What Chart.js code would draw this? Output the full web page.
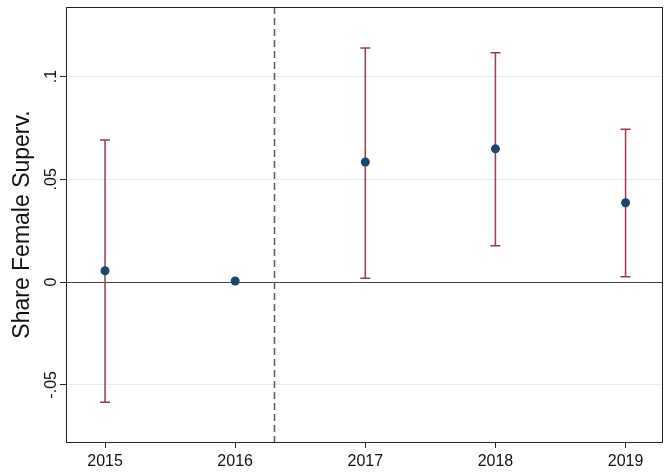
<!DOCTYPE html>
<html>
<head>
<meta charset="utf-8">
<script src="https://cdn.jsdelivr.net/npm/chart.js@4.4.1/dist/chart.umd.min.js"></script>
<style>
  html, body { margin: 0; padding: 0; background: #fff; }
  #wrap { width: 672px; height: 472px; }
</style>
</head>
<body>
<div id="wrap"><canvas id="c" width="672" height="472"></canvas></div>
<script>
/* Event-study style plot: coefficient per year with 95% CI, 2016 = reference year. */
const years = [2015, 2016, 2017, 2018, 2019];
const coef = [0.0055, 0.0005, 0.0584, 0.0648, 0.0386];
const ciLow = [-0.0585, null, 0.0018, 0.0177, 0.0026];
const ciHigh = [0.0691, null, 0.1138, 0.1115, 0.0743];
const yTickValues = [-0.05, 0, 0.05, 0.1];
const yTickLabels = ["-.05", "0", ".05", ".1"];
const treatLine = 2016.3;   // dashed vertical marker

const FONT = "'Liberation Sans', Arial, Helvetica, sans-serif";
const NAVY = "#1a476f", MAROON = "#9c3a4c";

const extras = {
  id: "extras",
  beforeDatasetsDraw(chart) {
    const { ctx, scales: { x, y }, chartArea: a } = chart;
    ctx.save();
    // dashed vertical line
    ctx.strokeStyle = "#5a5a5a"; ctx.lineWidth = 1.5; ctx.setLineDash([7, 4]);
    const dx = Math.round(x.getPixelForValue(treatLine)) + 0.5;
    ctx.beginPath(); ctx.moveTo(dx, a.top); ctx.lineTo(dx, a.bottom); ctx.stroke();
    ctx.setLineDash([]);
    // error bars with caps
    ctx.strokeStyle = MAROON; ctx.lineWidth = 1.5;
    years.forEach((yr, i) => {
      if (ciLow[i] == null) return;
      const px = x.getPixelForValue(yr);
      const lo = y.getPixelForValue(ciLow[i]), hi = y.getPixelForValue(ciHigh[i]);
      ctx.beginPath();
      ctx.moveTo(px, lo); ctx.lineTo(px, hi);
      ctx.moveTo(px - 5, lo); ctx.lineTo(px + 5, lo);
      ctx.moveTo(px - 5, hi); ctx.lineTo(px + 5, hi);
      ctx.stroke();
    });
    ctx.restore();
  },
  afterDraw(chart) {
    const { ctx, scales: { y }, chartArea: a } = chart;
    ctx.save();
    ctx.strokeStyle = "#222"; ctx.lineWidth = 1;
    ctx.strokeRect(Math.round(a.left) + 0.5, Math.round(a.top) + 0.5,
      Math.round(a.right - a.left), Math.round(a.bottom - a.top));
    // rotated y tick labels
    ctx.fillStyle = "#111"; ctx.font = "16px " + FONT;
    ctx.textAlign = "center"; ctx.textBaseline = "middle";
    yTickValues.forEach((v, i) => {
      ctx.save();
      ctx.translate(y.right - 14, y.getPixelForValue(v));
      ctx.rotate(-Math.PI / 2);
      ctx.fillText(yTickLabels[i], 0, 0);
      ctx.restore();
    });
    ctx.restore();
  },
};

new Chart(document.getElementById("c"), {
  type: "scatter",
  data: {
    datasets: [{
      data: years.map((yr, i) => ({ x: yr, y: coef[i] })),
      backgroundColor: NAVY, borderColor: NAVY,
      pointRadius: 4.5, pointHoverRadius: 4.5, borderWidth: 0,
    }],
  },
  options: {
    responsive: false, animation: false,
    layout: { padding: { top: 7, right: 10, left: 0, bottom: 0 } },
    plugins: { legend: { display: false }, tooltip: { enabled: false } },
    scales: {
      x: {
        type: "linear", min: 2014.7, max: 2019.28,
        afterBuildTicks: s => { s.ticks = years.map(v => ({ value: v })); },
        afterFit: s => { s.height = 30; },
        border: { display: false },
        grid: { drawOnChartArea: false, tickLength: 6, tickColor: "#222" },
        ticks: { color: "#111", font: { family: FONT, size: 16 }, padding: 4,
          maxRotation: 0, callback: v => String(v) },
      },
      y: {
        min: -0.0778, max: 0.1338,
        afterBuildTicks: s => { s.ticks = yTickValues.map(v => ({ value: v })); },
        afterFit: s => { s.width = 66; },
        border: { display: false },
        grid: {
          tickLength: 6, tickColor: "#222",
          color: c => (c.tick && c.tick.value === 0 ? "#444" : "#e3ecef"),
          lineWidth: 1,
        },
        ticks: { display: false },
        title: { display: true, text: "Share Female Superv.", color: "#111",
          font: { family: FONT, size: 23 }, padding: { top: 9, bottom: 0 } },
      },
    },
  },
  plugins: [extras],
});
</script>
</body>
</html>
